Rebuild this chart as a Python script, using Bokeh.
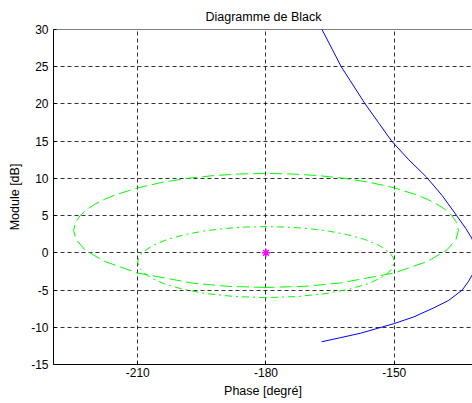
from bokeh.plotting import figure
from bokeh.models import FixedTicker, Span
from bokeh.embed import file_html
from bokeh.resources import INLINE

# ---- data ----
x_ticks = [-210, -180, -150]
y_ticks = [-15, -10, -5, 0, 5, 10, 15, 20, 25, 30]

# open-loop locus (blue)
loop_phase = [-167.9, -166.9, -162.4, -156.8, -153.7, -150.6, -146.6, -142.5, -138.8, -135.4,
              -133.3, -131.9, -131.0, -130.6, -131.0, -131.7, -132.6, -134.1, -137.3, -140.8,
              -145.4, -150.0, -157.9, -162.6, -167.0]
loop_db = [31.0, 30.0, 25.0, 20.0, 17.5, 15.0, 12.5, 10.2, 7.7, 5.0,
           3.3, 2.0, 0.7, -0.7, -1.9, -2.9, -3.8, -5.0, -6.4, -7.4,
           -8.6, -9.5, -10.8, -11.4, -11.95]

# outer contour (green dashed)
outer_phase = [-180.00, -188.93, -197.16, -210.00, -217.97, -222.37, -224.44, -225.00, -224.57,
               -223.45, -221.85, -219.90, -217.68, -215.26, -210.00, -204.34, -198.43, -192.37,
               -186.21, -180.00, -173.79, -167.63, -161.57, -155.66, -150.00, -144.74, -142.32,
               -140.10, -138.15, -136.55, -135.43, -135.00, -135.56, -137.63, -142.03, -150.00,
               -162.84, -171.07, -180.00]
outer_db = [-4.65, -4.50, -4.07, -2.71, -1.11, 0.42, 1.80, 3.01, 4.08,
            5.01, 5.84, 6.57, 7.21, 7.78, 8.73, 9.46, 10.00, 10.37,
            10.59, 10.67, 10.59, 10.37, 10.00, 9.46, 8.73, 7.78, 7.21,
            6.57, 5.84, 5.01, 4.08, 3.01, 1.80, 0.42, -1.11, -2.71,
            -4.07, -4.50, -4.65]

# inner contour (green dash-dot)
inner_phase = [-180.00, -187.37, -194.05, -199.57, -203.80, -206.77, -208.68, -209.69, -210.00,
               -209.73, -209.02, -206.57, -203.15, -199.11, -194.64, -189.90, -184.99, -180.00,
               -175.01, -170.10, -165.36, -160.89, -156.85, -153.43, -150.98, -150.27, -150.00,
               -150.31, -151.32, -153.23, -156.20, -160.43, -165.95, -172.63, -180.00]
inner_db = [-6.02, -5.87, -5.47, -4.87, -4.16, -3.40, -2.65, -1.93, -1.25,
            -0.62, -0.04, 0.97, 1.79, 2.43, 2.92, 3.26, 3.46, 3.52,
            3.46, 3.26, 2.92, 2.43, 1.79, 0.97, -0.04, -0.62, -1.25,
            -1.93, -2.65, -3.40, -4.16, -4.87, -5.47, -5.87, -6.02]

crit_phase = [-180]
crit_db = [0]

FONT = "Liberation Sans"

p = figure(width=472, height=403, output_backend="svg", toolbar_location=None,
           x_range=(-229.7, -131.7), y_range=(-15, 30),
           min_border_left=53, min_border_right=0, min_border_top=29, min_border_bottom=39)

p.background_fill_color = "white"
p.border_fill_color = "white"
p.outline_line_color = None

p.title.text = "Diagramme de Black"
p.title.align = "left"
p.title.offset = 152
p.title.standoff = 11
p.title.text_font = FONT
p.title.text_font_size = "12.5px"
p.title.text_font_style = "normal"
p.title.text_color = "black"

for ax in (p.xaxis[0], p.yaxis[0]):
    ax.axis_line_color = "black"
    ax.major_tick_in = 3
    ax.major_tick_out = 0
    ax.major_tick_line_color = "black"
    ax.minor_tick_line_color = None
    ax.major_label_text_font = FONT
    ax.major_label_text_font_size = "12px"
    ax.major_label_text_color = "black"
    ax.axis_label_text_font = FONT
    ax.axis_label_text_font_size = "12.5px"
    ax.axis_label_text_font_style = "normal"
    ax.axis_label_text_color = "black"

p.xaxis.ticker = FixedTicker(ticks=x_ticks)
p.yaxis.ticker = FixedTicker(ticks=y_ticks)
p.xaxis.major_label_overrides = {t: str(t) for t in x_ticks}
p.yaxis.major_label_overrides = {t: str(t) for t in y_ticks}
p.xaxis.axis_label = "Phase [degré]"
p.yaxis.axis_label = "Module [dB]"
p.xaxis.major_label_standoff = 3
p.xaxis.axis_label_standoff = 4
p.yaxis.major_label_standoff = 5
p.yaxis.axis_label_standoff = 6

p.xgrid[0].ticker = FixedTicker(ticks=x_ticks)
p.ygrid[0].ticker = FixedTicker(ticks=y_ticks)
for g in (p.xgrid[0], p.ygrid[0]):
    g.grid_line_color = "black"
    g.grid_line_alpha = 0.8
    g.grid_line_dash = "4 3"
    g.grid_line_width = 1

p.add_layout(Span(location=30, dimension="width", line_color="black", line_width=1))

p.line(outer_phase, outer_db, line_color="#00ff00", line_width=1, line_dash="12 5")
p.line(inner_phase, inner_db, line_color="#00ff00", line_width=1, line_dash="7 4 2 4")
p.line(loop_phase, loop_db, line_color="#0000ff", line_width=1)
p.scatter(crit_phase, crit_db, marker="asterisk", size=8, line_color="#ff00ff", line_width=1.5)

open("out.html", "w").write(file_html(p, INLINE))
